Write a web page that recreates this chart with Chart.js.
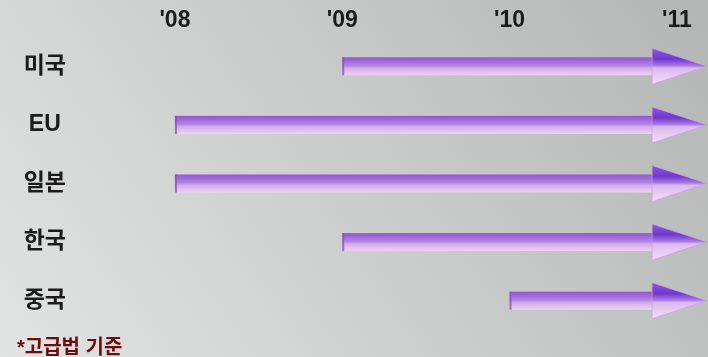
<!DOCTYPE html>
<html lang="ko">
<head>
    <meta charset="UTF-8">
    <title>고급법 도입 시기</title>
    <script src="https://cdn.jsdelivr.net/npm/chart.js"></script>
    <style>
        html, body {
            margin: 0;
            padding: 0;
        }
        body {
            width: 708px;
            height: 357px;
            background: linear-gradient(55deg, #e2e3e3 0%, #cdcece 45%, #b4b6b6 100%);
        }
        .wrap {
            position: relative;
            width: 708px;
            height: 357px;
        }
    </style>
</head>
<body>

<div class="wrap">
    <canvas id="timeline" width="708" height="357"></canvas>
</div>

<script>
    // countries and the year each one starts (arrow runs on past '11)
    const countries = ["미국", "EU", "일본", "한국", "중국"];
    const startYears = [2009, 2008, 2008, 2009, 2010];
    const endYears = [2011.18, 2011.18, 2011.18, 2011.18, 2011.18];
    const yearTicks = [2008, 2009, 2010, 2011];
    const footnote = "*고급법 기준";

    const fontFamily = "'Liberation Sans', 'Noto Sans CJK KR', sans-serif";

    // draws each floating bar as a purple arrow
    const arrowPlugin = {
        id: "arrows",
        afterDatasetsDraw(chart) {
            let ctx = chart.ctx;
            chart.getDatasetMeta(0).data.forEach(bar => {
                let x0 = Math.min(bar.base, bar.x);
                let x1 = Math.max(bar.base, bar.x);
                let yc = bar.y;
                let h = bar.height / 2;
                let headLen = bar.height * 3.05;
                let headHalf = bar.height;
                let xh = x1 - headLen;

                ctx.save();

                // shaft
                let g = ctx.createLinearGradient(0, yc - h, 0, yc + h);
                g.addColorStop(0, "#9356cb");
                g.addColorStop(0.18, "#a066d9");
                g.addColorStop(0.45, "#b083e2");
                g.addColorStop(0.62, "#d4adeb");
                g.addColorStop(1, "#ecd3f4");
                ctx.fillStyle = g;
                ctx.fillRect(x0, yc - h, xh - x0 + 1, h * 2);
                ctx.fillStyle = "rgba(140, 80, 200, 0.8)";
                ctx.fillRect(x0, yc - h, 2, h * 2);

                // head
                let hg = ctx.createLinearGradient(0, yc - headHalf, 0, yc + headHalf);
                hg.addColorStop(0, "#8e58d6");
                hg.addColorStop(0.3, "#7038cc");
                hg.addColorStop(0.48, "#a878e0");
                hg.addColorStop(0.55, "#dcb8ef");
                hg.addColorStop(1, "#f2e0f7");
                ctx.beginPath();
                ctx.moveTo(xh, yc - headHalf);
                ctx.lineTo(x1, yc);
                ctx.lineTo(xh, yc + headHalf);
                ctx.closePath();
                ctx.fillStyle = hg;
                ctx.fill();
                ctx.strokeStyle = "rgba(200, 160, 230, 0.7)";
                ctx.lineWidth = 1;
                ctx.stroke();

                ctx.restore();
            });
        }
    };

    const ctx = document.getElementById("timeline").getContext("2d");
    new Chart(ctx, {
        type: "bar",
        data: {
            labels: countries,
            datasets: [{
                data: startYears.map((s, i) => [s, endYears[i]]),
                backgroundColor: "rgba(0,0,0,0)",
                borderWidth: 0,
                barThickness: 18
            }]
        },
        options: {
            indexAxis: "y",
            responsive: false,
            animation: false,
            layout: {
                padding: { left: 17, right: 0, top: 0, bottom: 0 }
            },
            plugins: {
                legend: { display: false },
                tooltip: { enabled: false },
                subtitle: {
                    display: true,
                    text: footnote,
                    position: "bottom",
                    align: "start",
                    color: "#6e0b0b",
                    font: { family: fontFamily, size: 20, weight: "bold" },
                    padding: { top: 6, bottom: -3 }
                }
            },
            scales: {
                x: {
                    type: "linear",
                    position: "top",
                    min: 2007.361,
                    max: 2011.186,
                    grid: { display: false, drawTicks: false },
                    border: { display: false },
                    afterBuildTicks: scale => {
                        scale.ticks = yearTicks.map(v => ({ value: v }));
                    },
                    afterFit: scale => {
                        scale.height = 37;
                    },
                    ticks: {
                        padding: 3,
                        color: "#1b1b1b",
                        font: { family: fontFamily, size: 23, weight: "bold" },
                        callback: value => "'" + String(value).slice(2)
                    }
                },
                y: {
                    grid: { display: false, drawTicks: false },
                    border: { display: false },
                    afterFit: scale => {
                        scale.width = 51;
                    },
                    ticks: {
                        crossAlign: "center",
                        padding: 2,
                        color: "#1b1b1b",
                        font: { family: fontFamily, size: 23, weight: "bold" }
                    }
                }
            }
        },
        plugins: [arrowPlugin]
    });
</script>

</body>
</html>
